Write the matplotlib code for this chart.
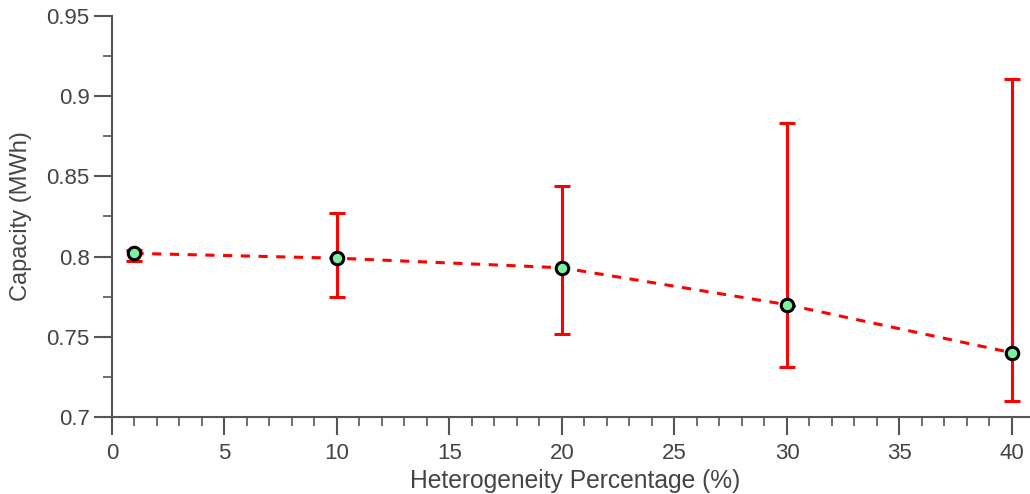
import matplotlib.pyplot as plt
from matplotlib.ticker import MultipleLocator

plt.rcParams['font.family'] = ['Liberation Sans', 'DejaVu Sans']

# Data
heterogeneity = [1, 10, 20, 30, 40]
capacity = [0.802, 0.799, 0.793, 0.770, 0.740]
err_low = [0.797, 0.775, 0.752, 0.731, 0.710]
err_high = [0.804, 0.827, 0.844, 0.883, 0.911]

yerr = [[c - lo for c, lo in zip(capacity, err_low)],
        [hi - c for c, hi in zip(capacity, err_high)]]

gray = '#555555'
text_gray = '#444444'

fig = plt.figure(figsize=(10.3, 4.94), dpi=100)
ax = fig.add_axes([0.1087, 0.156, 0.8913, 0.8116])

# error bars
ax.errorbar(heterogeneity, capacity, yerr=yerr, fmt='none',
            ecolor='red', elinewidth=2.2, capsize=6, capthick=2.2, zorder=2)
# dashed line
ax.plot(heterogeneity, capacity, linestyle='--', color='red', linewidth=2.2,
        dashes=(3, 2.8), zorder=3)
# markers
ax.plot(heterogeneity, capacity, linestyle='none', marker='o', markersize=9,
        markerfacecolor='#7cf0a0', markeredgecolor='black', markeredgewidth=2.2,
        zorder=4)

ax.set_xlim(0, 40.8)
ax.set_ylim(0.7, 0.95)

ax.xaxis.set_major_locator(MultipleLocator(5))
ax.xaxis.set_minor_locator(MultipleLocator(1))
ax.yaxis.set_minor_locator(MultipleLocator(0.025))
ax.set_yticks([0.7, 0.75, 0.8, 0.85, 0.9, 0.95])
ax.set_yticklabels(['0.7', '0.75', '0.8', '0.85', '0.9', '0.95'])

for side in ['top', 'right']:
    ax.spines[side].set_visible(False)
for side in ['left', 'bottom']:
    ax.spines[side].set_color(gray)
    ax.spines[side].set_linewidth(1.5)

ax.tick_params(which='major', direction='out', length=13, width=1.5, color=gray,
               labelsize=16, labelcolor=text_gray)
ax.tick_params(axis='y', which='major', pad=3)
ax.tick_params(axis='x', which='major', pad=6)
ax.tick_params(which='minor', direction='out', length=6.5, width=1.2, color=gray)

ax.set_xlabel('Heterogeneity Percentage (%)', fontsize=17.7, color=text_gray)
ax.set_ylabel('Capacity (MWh)', fontsize=17, color=text_gray)
ax.xaxis.set_label_coords(0.505, -0.131)
ax.yaxis.set_label_coords(-0.087, 0.5)

fig.savefig('out.png', dpi=100)
